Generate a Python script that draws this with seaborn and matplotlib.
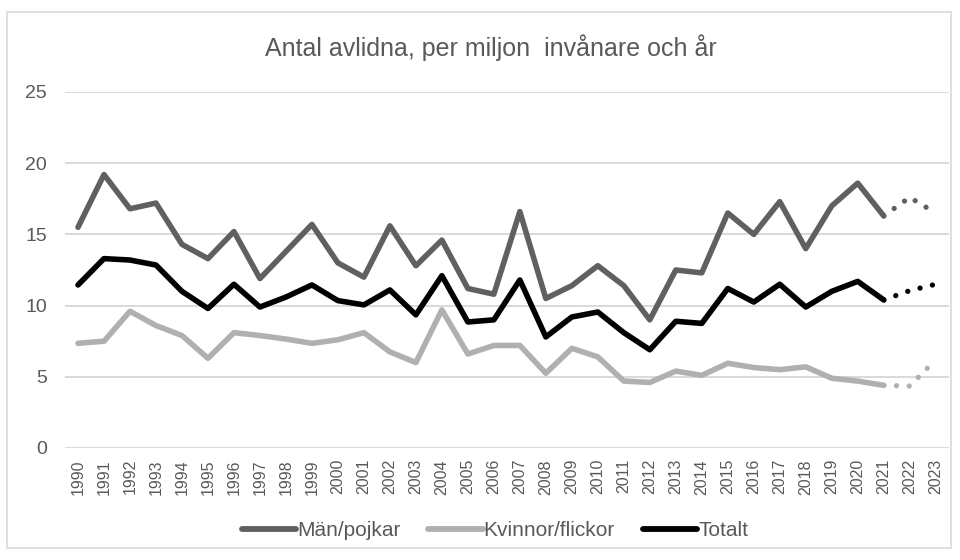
import matplotlib
matplotlib.use("Agg")
import matplotlib.pyplot as plt
from matplotlib.lines import Line2D
from matplotlib.patches import Rectangle
import seaborn as sns
import pandas as pd

# ---- data ----
years = list(range(1990, 2022))
proj_years = [2021, 2022, 2023]
tick_years = list(range(1990, 2024))

men = [15.5, 19.2, 16.8, 17.2, 14.3, 13.3, 15.2, 11.9, 13.8, 15.7, 13.0, 12.0,
       15.6, 12.8, 14.6, 11.2, 10.8, 16.6, 10.5, 11.4, 12.8, 11.4, 9.0, 12.5,
       12.3, 16.5, 15.0, 17.3, 14.0, 17.0, 18.6, 16.3]
women = [7.35, 7.5, 9.6, 8.6, 7.9, 6.3, 8.1, 7.9, 7.65, 7.35, 7.6, 8.1,
         6.75, 6.0, 9.7, 6.6, 7.2, 7.2, 5.25, 7.0, 6.4, 4.7, 4.6, 5.4,
         5.1, 5.95, 5.65, 5.5, 5.7, 4.9, 4.7, 4.4]
total = [11.45, 13.3, 13.2, 12.85, 11.0, 9.8, 11.5, 9.9, 10.6, 11.45, 10.35, 10.05,
         11.1, 9.35, 12.1, 8.85, 9.0, 11.8, 7.8, 9.2, 9.55, 8.1, 6.9, 8.9,
         8.75, 11.2, 10.25, 11.5, 9.9, 11.0, 11.7, 10.4]
men_proj = [16.3, 17.6, 16.5]
women_proj = [4.4, 4.35, 6.2]
total_proj = [10.4, 11.05, 11.5]

labels = ["Män/pojkar", "Kvinnor/flickor", "Totalt"]
colors = ["#606060", "#b0b0b0", "#000000"]
title = "Antal avlidna, per miljon  invånare och år"

# ---- style ----
sns.set_theme(style="white")
plt.rcParams["font.family"] = ["Liberation Sans", "DejaVu Sans"]
text_color = "#595959"
grid_color = "#d9d9d9"

fig = plt.figure(figsize=(9.6, 5.6), dpi=100)
ax = fig.add_axes([65 / 960, 1 - 448 / 560, (948.7 - 65) / 960, (448 - 92) / 560])

lw = 4.0
for vals, pvals, col in zip([men, women, total], [men_proj, women_proj, total_proj], colors):
    df = pd.DataFrame({"year": years, "value": vals})
    sns.lineplot(data=df, x="year", y="value", color=col, linewidth=lw, ax=ax,
                 solid_capstyle="round", solid_joinstyle="round", zorder=3)
    dp = pd.DataFrame({"year": proj_years, "value": pvals})
    sns.lineplot(data=dp, x="year", y="value", color=col, linewidth=3.8, ax=ax,
                 linestyle=(2.4, (0.01, 2.4)), dash_capstyle="round", zorder=3)

ax.set_xlim(1989.5, 2023.5)
ax.set_ylim(0, 25)
ax.set_xticks(tick_years)
ax.set_xticklabels([str(y) for y in tick_years], rotation=90, fontsize=11.5,
                   color=text_color)
ax.set_yticks(range(0, 26, 5))
ax.set_yticklabels([str(v) for v in range(0, 26, 5)], fontsize=14, color=text_color)
ax.tick_params(axis="x", length=0, pad=8)
ax.tick_params(axis="y", length=0, pad=13)
ax.set_xlabel("")
ax.set_ylabel("")
for s in ax.spines.values():
    s.set_visible(False)
ax.yaxis.grid(True, color=grid_color, linewidth=1.4)
ax.xaxis.grid(False)
ax.set_axisbelow(True)
if ax.get_legend() is not None:
    ax.get_legend().remove()

fig.text(491 / 960, 1 - 48 / 560, title, ha="center", va="center",
         fontsize=18, color=text_color)

handles = [Line2D([0], [0], color=c, linewidth=4.2, solid_capstyle="round") for c in colors]
fig.legend(handles, labels, loc="center", bbox_to_anchor=(495 / 960, 1 - 531 / 560),
           ncol=3, frameon=False, fontsize=15, handlelength=2.6, handletextpad=0.05,
           columnspacing=1.35, labelcolor=text_color)

fig.add_artist(Rectangle((7 / 960, 1 - 548 / 560), (951 - 7) / 960, (548 - 12) / 560,
                         transform=fig.transFigure, fill=False,
                         edgecolor=grid_color, linewidth=1.2))

fig.savefig("out.png", dpi=100, facecolor="white")
